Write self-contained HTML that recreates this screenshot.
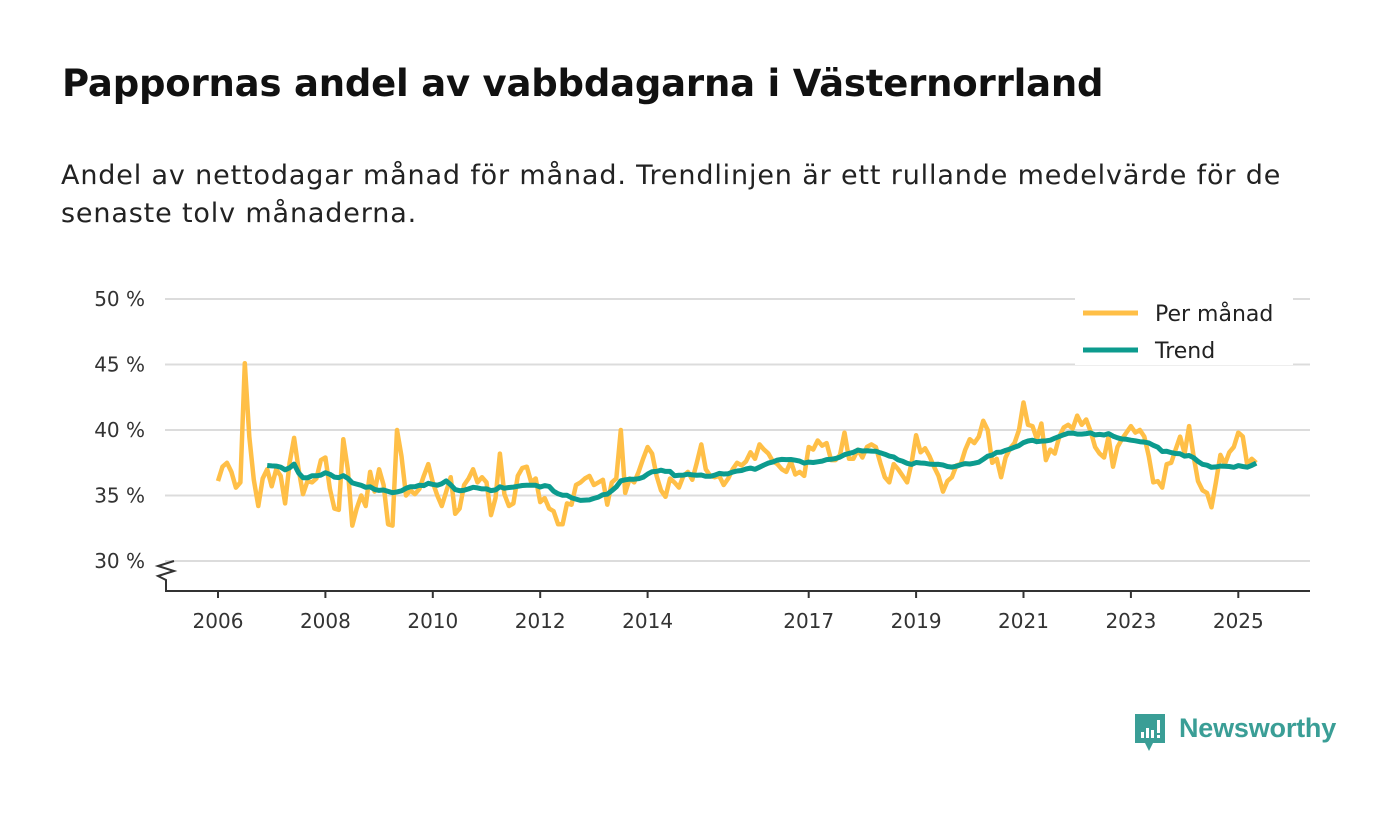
<!DOCTYPE html>
<html><head><meta charset="utf-8">
<style>
body{margin:0;width:1400px;height:813px;background:#fff;font-family:"Liberation Sans","DejaVu Sans",sans-serif;overflow:hidden;position:relative}
h1{position:absolute;left:62px;top:62px;margin:0;font-size:37px;font-weight:bold;color:#111;font-family:"DejaVu Sans","Liberation Sans",sans-serif;letter-spacing:-0.2px}
.sub{position:absolute;left:61px;top:157px;width:1300px;font-size:27px;line-height:38px;color:#222;font-family:"DejaVu Sans","Liberation Sans",sans-serif;letter-spacing:0.85px;white-space:nowrap}
svg text{font-family:"DejaVu Sans","Liberation Sans",sans-serif}
</style></head><body>
<h1>Pappornas andel av vabbdagarna i Västernorrland</h1>
<div class="sub">Andel av nettodagar månad för månad. Trendlinjen är ett rullande medelvärde för de<br>senaste tolv månaderna.</div>
<svg id="chart" width="1400" height="813" style="position:absolute;left:0;top:0"></svg>
<div style="position:absolute;left:1133px;top:713px;display:flex;align-items:center">
<svg width="34" height="40" viewBox="0 0 34 40"><path d="M2 1h30v29H20l-4 8-4-8H2z" fill="#3a9e96"/><rect x="8" y="19" width="3" height="6" fill="#fff"/><rect x="13" y="15" width="3" height="10" fill="#fff"/><rect x="18" y="17" width="3" height="8" fill="#fff"/><rect x="24" y="7" width="3" height="13" fill="#fff"/><rect x="24" y="22" width="3" height="3" fill="#fff"/></svg>
<span style="margin-left:12px;font-size:27px;font-weight:bold;color:#3a9e96;font-family:'Liberation Sans','DejaVu Sans',sans-serif;letter-spacing:-0.2px;margin-top:-10px">Newsworthy</span>
</div>
<script>
const yTicks=[30,35,40,45,50];
const yTickLabels=['30 %','35 %','40 %','45 %','50 %'];
const xTicks=[2006,2008,2010,2012,2014,2017,2019,2021,2023,2025];
const startYear=2006;
const monthly=[
36.1,37.2,37.5,36.8,35.6,36.0,45.1,39.5,36.2,34.2,36.3,37.0,
35.7,37.0,36.5,34.4,37.5,39.4,37.0,35.1,36.1,36.0,36.3,37.7,
37.9,35.5,34.0,33.9,39.3,37.0,32.7,34.0,35.0,34.2,36.8,35.3,
37.0,35.8,32.8,32.7,40.0,38.0,35.0,35.4,35.1,35.5,36.5,37.4,
36.0,35.0,34.2,35.3,36.4,33.6,34.0,35.8,36.3,37.0,36.0,36.4,
36.0,33.5,34.8,38.2,35.1,34.2,34.4,36.5,37.1,37.2,36.0,36.3,
34.5,34.8,34.0,33.8,32.8,32.8,34.4,34.3,35.8,36.0,36.3,36.5,
35.8,36.0,36.2,34.3,36.0,36.3,40.0,35.2,36.3,36.0,36.8,37.8,
38.7,38.2,36.5,35.4,34.9,36.3,36.0,35.6,36.5,36.8,36.2,37.5,
38.9,37.0,36.5,36.4,36.5,35.8,36.3,37.0,37.5,37.3,37.6,38.3,
37.8,38.9,38.5,38.2,37.6,37.4,37.0,36.8,37.6,36.6,36.8,36.5,
38.7,38.5,39.2,38.8,39.0,37.7,37.7,38.1,39.8,37.8,37.8,38.5,
37.9,38.7,38.9,38.7,37.5,36.4,36.0,37.4,37.0,36.5,36.0,37.5,
39.6,38.3,38.6,38.0,37.2,36.5,35.3,36.1,36.4,37.3,37.4,38.5,
39.3,39.0,39.5,40.7,40.0,37.5,37.8,36.4,37.9,38.6,39.0,40.0,
42.1,40.4,40.3,39.3,40.5,37.7,38.5,38.2,39.5,40.2,40.4,40.1,
41.1,40.4,40.8,39.9,38.7,38.2,37.9,39.5,37.2,38.7,39.3,39.8,
40.3,39.8,40.0,39.5,38.0,36.0,36.1,35.6,37.4,37.5,38.5,39.5,
38.2,40.3,38.0,36.1,35.4,35.2,34.1,36.0,38.1,37.4,38.3,38.7,
39.8,39.5,37.3,37.8,37.5];
const trend=monthly.map((v,i)=>i<11?null:monthly.slice(i-11,i+1).reduce((a,b)=>a+b,0)/12);

const NS='http://www.w3.org/2000/svg';
const svg=document.getElementById('chart');
const x=t=>218+(t-startYear)*53.7;
const xm=i=>x(startYear+i/12);
const y=v=>561-(v-30)*13.1;
function mk(tag,attrs,parent){const e=document.createElementNS(NS,tag);for(const k in attrs)e.setAttribute(k,attrs[k]);(parent||svg).appendChild(e);return e;}

yTicks.forEach((t,i)=>{
  const g=mk('line',{x1:165,x2:1310,y1:y(t),y2:y(t),stroke:'#dcdcdc','stroke-width':2});
  
  
  const tx=mk('text',{x:145,y:y(t)+7,'text-anchor':'end','font-size':20,fill:'#333'});
  tx.textContent=yTickLabels[i];
  
  
});
const ax=mk('line',{x1:165,x2:1310,y1:591,y2:591,stroke:'#333','stroke-width':2});


const br=mk('path',{d:'M166 591 V580 L158 576 L174 571 L158 566 L174 561',fill:'none',stroke:'#333','stroke-width':2});


xTicks.forEach(t=>{
  const l=mk('line',{x1:x(t),x2:x(t),y1:591,y2:598,stroke:'#333','stroke-width':2});
  
  
  const tx=mk('text',{x:x(t),y:628,'text-anchor':'middle','font-size':20,fill:'#333'});
  tx.textContent=t;
  
  
});
const pm=mk('path',{d:monthly.map((v,i)=>(i?'L':'M')+xm(i).toFixed(1)+' '+y(v).toFixed(1)).join(''),fill:'none',stroke:'#ffbf47','stroke-width':4.5,'stroke-linejoin':'round'});


let d='';trend.forEach((v,i)=>{if(v!==null)d+=(d?'L':'M')+xm(i).toFixed(1)+' '+y(v).toFixed(1);});
const tl=mk('path',{d:d,fill:'none',stroke:'#0c9b8e','stroke-width':5,'stroke-linejoin':'round'});



const lg=mk('g',{});


mk('rect',{x:1075,y:296,width:218,height:69,fill:'#fff'},lg);
[['Per månad','#ffbf47',313],['Trend','#0c9b8e',350]].forEach(([n,c,yy])=>{
  const e=mk('g',{},lg);
  
  
  mk('line',{x1:1083,x2:1138,y1:yy,y2:yy,stroke:c,'stroke-width':5},e);
  const t=mk('text',{x:1155,y:yy+8,'font-size':22,fill:'#222'},e);t.textContent=n;
});
</script>
</body></html>
